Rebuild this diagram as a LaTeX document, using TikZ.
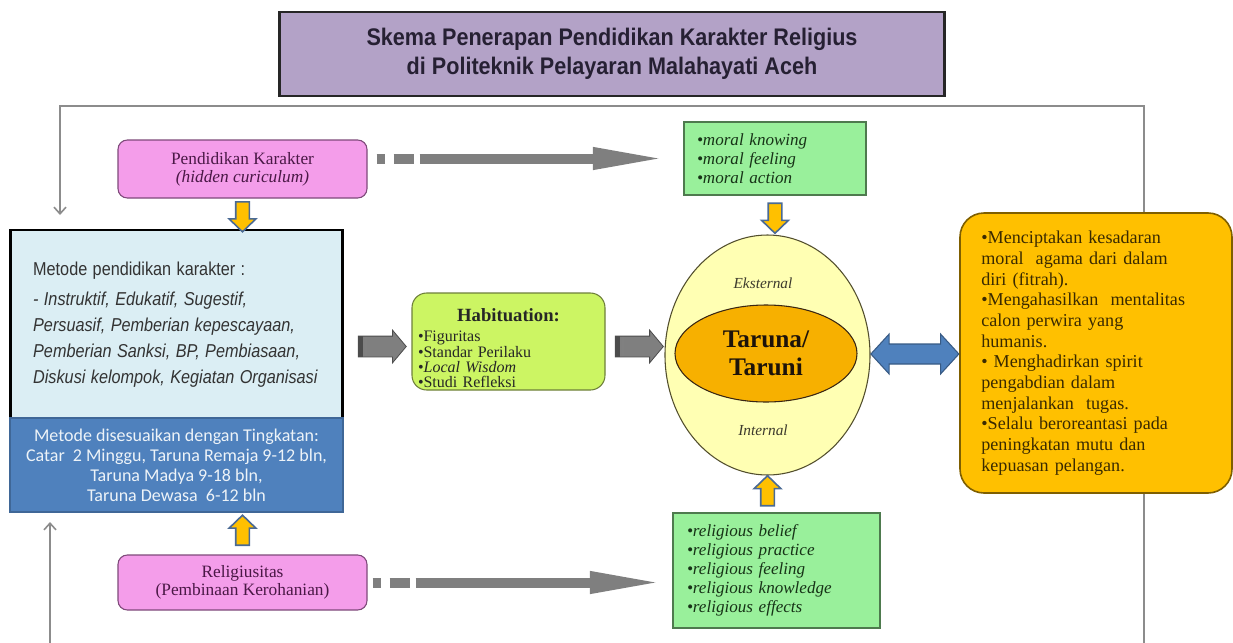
\documentclass[tikz,border=0pt]{standalone}
\usepackage{fontspec}
\setmainfont{Liberation Serif}
\setsansfont{Liberation Sans}
\newfontfamily\calfont{Carlito}
\usetikzlibrary{shapes.geometric,shapes.arrows,arrows.meta,calc,fadings}

\definecolor{titlefill}{HTML}{B3A2C7}
\definecolor{titletext}{HTML}{262033}
\definecolor{pinkfill}{HTML}{F49DEA}
\definecolor{pinkline}{HTML}{7E4A7A}
\definecolor{pinktext}{HTML}{4A1846}
\definecolor{paleblue}{HTML}{DBEEF4}
\definecolor{steelblue}{HTML}{4F81BD}
\definecolor{greenfill}{HTML}{99F09B}
\definecolor{greenline}{HTML}{4E7A4E}
\definecolor{greentext}{HTML}{173317}
\definecolor{limefill}{HTML}{CCF563}
\definecolor{limeline}{HTML}{6E7F3A}
\definecolor{paleyellow}{HTML}{FFFFB3}
\definecolor{gold}{HTML}{FFC000}
\definecolor{orangeellipse}{HTML}{F7B000}
\definecolor{brownline}{HTML}{7F5F00}
\definecolor{browntext}{HTML}{3A2A00}
\definecolor{arrowblue}{HTML}{4A6A94}
\definecolor{framegray}{HTML}{8C8C8C}
\definecolor{arrowgray}{HTML}{7F7F7F}

\tikzfading[name=fadesides,left color=transparent!100,middle color=transparent!0,right color=transparent!100]

\begin{document}
\begin{tikzpicture}[x=0.75pt,y=-0.75pt,
  frameline/.style={draw=framegray,line width=1.2pt},
  titlebox/.style={draw=black!85,fill=titlefill,line width=2pt,text=titletext,
    font=\sffamily\bfseries\fontsize{18}{22}\selectfont,minimum width=498.75pt,minimum height=63pt,inner sep=0pt},
  pinkbox/.style={draw=pinkline,fill=pinkfill,rounded corners=7pt,line width=0.8pt,text=pinktext,
    font=\fontsize{13}{13.5}\selectfont,align=center,minimum width=186.75pt,inner sep=0pt},
  greenbox/.style={draw=greenline,fill=greenfill,line width=0.8pt,text=greentext,
    font=\itshape\fontsize{12.8}{14.3}\selectfont,align=left},
  goldarrow/.style={single arrow,draw=arrowblue,fill=gold,line width=1.2pt,minimum height=22.5pt,
    inner xsep=0pt,inner ysep=4.5pt,single arrow head extend=4.9pt,single arrow tip angle=92},
  fatarrow/.style={single arrow,draw=black!70,fill=arrowgray,line width=0.6pt,minimum height=36pt,
    inner xsep=0pt,inner ysep=7.5pt,single arrow head extend=4.5pt,single arrow tip angle=100,
    path picture={\fill[black!70] (path picture bounding box.south west) rectangle ([xshift=3.5pt]path picture bounding box.north west);
      \fill[black!50] ([xshift=5pt]path picture bounding box.south west) rectangle ([xshift=6.5pt]path picture bounding box.north west);}},
  dasharrow/.style={line width=7.5pt,draw=arrowgray,dash pattern=on 6pt off 6.75pt on 15pt off 4.5pt on 400pt,
    -{Triangle[length=56pt,width=15pt]}},
  ellipselabel/.style={font=\itshape\fontsize{11.5}{12}\selectfont,text=black!75!olive}]
\useasboundingbox (0,0) rectangle (1233,643);

% frame around the scheme
\coordinate (ftl) at (60,106);
\coordinate (ftr) at (1144,106);
\coordinate (fbr) at (1144,643);
\coordinate (fin) at (60,215);
\coordinate (fbl) at (50,643);
\coordinate (fup) at (50,522);
\shade[top color=black!45,bottom color=white,path fading=fadesides] (150,98) rectangle (1060,109);
\draw[frameline,-{Straight Barb[length=5pt,width=9pt]}] (fbr) -- (ftr) -- (ftl) -- (fin);
\draw[frameline,-{Straight Barb[length=5pt,width=9pt]}] (fbl) -- (fup);

\node[titlebox] (title) at (612,54) {\scalebox{0.9}[1]{\begin{tabular}{@{}c@{}}Skema Penerapan Pendidikan Karakter Religius\\ di Politeknik Pelayaran Malahayati Aceh\end{tabular}}};

% left column
\node[pinkbox,minimum height=43.5pt] (pk) at (242.5,169) {Pendidikan Karakter\\ \textit{(hidden curiculum)}};
\node[draw=black,line width=2.2pt,fill=paleblue,text=black!80,font=\sffamily\fontsize{14}{19.5}\selectfont,
  text width=215pt,inner xsep=17.25pt,align=left,minimum height=141pt] (metode) at (176.5,324)
  {\scalebox{0.87}[1]{\begin{tabular}{@{}l@{}}Metode pendidikan karakter :\\[3pt]
  \textit{- Instruktif, Edukatif, Sugestif,}\\
  \textit{Persuasif, Pemberian kepescayaan,}\\
  \textit{Pemberian Sanksi, BP, Pembiasaan,}\\
  \textit{Diskusi kelompok, Kegiatan Organisasi}\end{tabular}}};
\node[draw=steelblue!80!black,line width=0.8pt,fill=steelblue,text=white!90!steelblue,
  font=\calfont\fontsize{13.5}{15}\selectfont,align=center,minimum width=249.75pt,minimum height=70.5pt,inner sep=0pt]
  (tingkat) at (176.5,465) {Metode disesuaikan dengan Tingkatan:\\ Catar~ 2 Minggu, Taruna Remaja 9-12 bln,\\ Taruna Madya 9-18 bln,\\ Taruna Dewasa~ 6-12 bln};
\node[pinkbox,minimum height=41.25pt] (rel) at (242.5,582.5) {Religiusitas\\ (Pembinaan Kerohanian)};

% middle column
\node[greenbox,minimum height=54.75pt,text width=117pt,inner xsep=9.75pt] (moral) at (775,158.5)
  {\textbullet moral knowing\\ \textbullet moral feeling\\ \textbullet moral action};
\node[greenbox,minimum height=86.25pt,text width=134.25pt,inner xsep=10.5pt] (relig) at (776.5,570.5)
  {\textbullet religious belief\\ \textbullet religious practice\\ \textbullet religious feeling\\ \textbullet religious knowledge\\ \textbullet religious effects};
\node[draw=limeline,fill=limefill,line width=0.8pt,rounded corners=11pt,text=black!85,
  font=\fontsize{12}{11.5}\selectfont,text width=135.75pt,inner xsep=4.5pt,inner ysep=0pt,align=left,minimum height=72.75pt] (habit) at (508.5,341.5)
  {\makebox[\linewidth][c]{\rule{0pt}{20pt}\fontsize{14}{14}\selectfont\bfseries Habituation:}\\[3.5pt] \textbullet Figuritas\\ \textbullet Standar Perilaku\\ \textbullet\textit{Local Wisdom}\\ \textbullet Studi Refleksi};

% the cadet
\node[ellipse,draw=black!55!olive,fill=paleyellow,line width=0.8pt,minimum width=153.75pt,minimum height=180pt,inner sep=0pt] (outer) at (767.5,355) {};
\node[ellipselabel] (ekst) at (763,283) {Eksternal};
\node[ellipselabel] (intl) at (763,430) {Internal};
\node[ellipse,draw=black!70!brown,fill=orangeellipse,line width=0.8pt,minimum width=136.5pt,minimum height=72.75pt,inner sep=0pt,
  text=black!85!brown,font=\bfseries\fontsize{19}{21}\selectfont,align=center] (taruna) at (766,353.5) {Taruna/\\Taruni};

% right box
\node[draw=brownline,fill=gold,line width=1.2pt,rounded corners=18pt,text=browntext,
  font=\fontsize{13.6}{15.5}\selectfont,text width=172pt,inner xsep=16pt,align=left,minimum height=210pt] (result) at (1096,353)
  {\textbullet Menciptakan kesadaran\\ moral~ agama dari dalam\\ diri (fitrah).\\ \textbullet Mengahasilkan~ mentalitas\\ calon perwira yang\\ humanis.\\
   \textbullet\ Menghadirkan spirit\\ pengabdian dalam\\ menjalankan~ tugas.\\ \textbullet Selalu beroreantasi pada\\ peningkatan mutu dan\\ kepuasan pelangan.};

% arrows
\node[goldarrow,rotate=-90] (pkarr) at ($(pk.south)!0.5!(pk.south |- metode.north)$) {};
\node[goldarrow,rotate=90] (relarr) at ($(rel.north)!0.5!(rel.north |- tingkat.south)$) {};
\node[goldarrow,rotate=-90] (moralarr) at ($(moral.south)!0.5!(moral.south |- outer.north)$) {};
\node[goldarrow,rotate=90] (religarr) at ($(outer.south)!0.5!(outer.south |- relig.north)$) {};
\node[fatarrow] (metarr) at ([yshift=-3.75pt]$(metode.east |- habit.west)!0.5!(habit.west)$) {};
\node[fatarrow] (habarr) at ([yshift=-3.75pt]$(habit.east)!0.5!(habit.east -| outer.west)$) {};
\node[double arrow,draw=steelblue!70!black,fill=steelblue,line width=0.8pt,minimum height=66pt,
  inner xsep=0pt,inner ysep=7.1pt,double arrow head extend=7.5pt,double arrow tip angle=95] (resarr) at ($(outer.east)!0.5!(result.west)$) {};
\draw[dasharrow] ([xshift=6.75pt]pk.east |- moral.west) -- ([xshift=-12pt]moral.west);
\draw[dasharrow] ([xshift=3.75pt]rel.east) -- ([xshift=-6pt]rel.east -| relig.west);
\end{tikzpicture}
\end{document}
